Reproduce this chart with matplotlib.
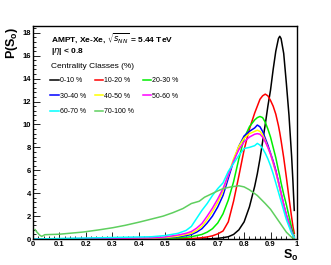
import matplotlib.pyplot as plt
from matplotlib.ticker import MultipleLocator

# S_o sample points shared by the centrality curves
x_so = [0.0, 0.45, 0.5, 0.55, 0.58, 0.6, 0.62, 0.64, 0.66, 0.68, 0.7, 0.72, 0.74, 0.76, 0.78,
        0.8, 0.82, 0.84, 0.85, 0.86, 0.87, 0.88, 0.89, 0.9, 0.91, 0.92, 0.93, 0.935, 0.94,
        0.95, 0.96, 0.97, 0.98, 0.985, 0.99]

c0_10 = [0, 0, 0, 0, 0, 0, 0, 0, 0.01, 0.03, 0.06, 0.12, 0.2, 0.4, 0.8,
         1.5, 2.8, 4.6, 5.7, 7.0, 8.5, 10.0, 11.6, 13.0, 14.8, 16.4, 17.5, 17.7, 17.5,
         16.2, 13.6, 10.8, 7.2, 5.0, 2.5]
c10_20 = [0, 0, 0, 0.01, 0.02, 0.04, 0.07, 0.12, 0.18, 0.28, 0.45, 0.7, 1.5, 3.3, 5.5,
          7.8, 9.6, 11.0, 11.6, 12.2, 12.5, 12.65, 12.5, 12.1, 11.6, 10.9, 9.9, 9.3, 8.6,
          7.1, 5.4, 3.6, 1.9, 1.1, 0.5]
c20_30 = [0, 0.02, 0.05, 0.1, 0.15, 0.2, 0.3, 0.4, 0.6, 0.9, 1.4, 2.2, 3.4, 5.0, 7.0,
          8.8, 9.8, 10.4, 10.6, 10.7, 10.6, 10.2, 9.6, 8.9, 8.0, 7.1, 6.0, 5.5, 4.9,
          3.9, 3.0, 2.0, 1.0, 0.6, 0.25]
c30_40 = [0, 0.05, 0.1, 0.2, 0.3, 0.4, 0.6, 0.9, 1.4, 2.0, 2.8, 3.8, 5.3, 6.8, 8.1,
          9.0, 9.4, 9.7, 9.95, 9.8, 9.4, 8.8, 8.2, 7.5, 6.8, 6.0, 5.0, 4.5, 4.0,
          3.0, 2.1, 1.4, 0.7, 0.4, 0.15]
c40_50 = [0, 0.06, 0.12, 0.25, 0.4, 0.5, 0.75, 1.1, 1.7, 2.4, 3.2, 4.2, 5.6, 7.0, 8.1,
          8.8, 9.2, 9.4, 9.5, 9.4, 9.1, 8.6, 8.0, 7.4, 6.6, 5.8, 4.9, 4.4, 3.9,
          2.9, 2.0, 1.3, 0.6, 0.35, 0.1]
c50_60 = [0, 0.1, 0.18, 0.35, 0.5, 0.65, 0.95, 1.35, 2.0, 2.7, 3.5, 4.4, 5.6, 6.8, 7.8,
          8.5, 8.9, 9.15, 9.2, 9.15, 8.9, 8.5, 8.0, 7.4, 6.7, 5.9, 5.0, 4.5, 4.0,
          3.0, 2.1, 1.3, 0.6, 0.35, 0.1]
c60_70 = [0, 0.2, 0.3, 0.5, 0.75, 1.1, 1.8, 2.5, 3.1, 3.8, 4.4, 4.9, 5.9, 6.6, 7.3,
          7.9, 8.0, 8.15, 8.35, 8.2, 7.9, 7.5, 7.0, 6.4, 5.7, 4.9, 4.1, 3.7, 3.3,
          2.5, 1.7, 1.1, 0.5, 0.3, 0.1]

# peripheral class has its own sampling
x_periph = [0.008, 0.015, 0.025, 0.033, 0.045, 0.1, 0.19, 0.25, 0.303, 0.35, 0.405, 0.45,
            0.493, 0.53, 0.568, 0.6, 0.63, 0.65, 0.7, 0.72, 0.75, 0.78, 0.8, 0.82, 0.85,
            0.88, 0.9, 0.93, 0.96, 0.98, 0.99]
c70_100 = [0.82, 0.6, 0.35, 0.23, 0.38, 0.42, 0.61, 0.8, 0.99, 1.2, 1.49, 1.75,
           2.0, 2.3, 2.66, 3.1, 3.3, 3.65, 4.2, 4.4, 4.55, 4.65, 4.55, 4.3, 3.8,
           3.1, 2.6, 1.6, 0.6, 0.15, 0.0]

labels = ['0-10 %', '10-20 %', '20-30 %', '30-40 %', '40-50 %', '50-60 %', '60-70 %', '70-100 %']
colors = ['black', '#ff0000', '#00ee00', '#0000ff', '#ffff00', '#ff00ff', '#00ffff', '#5fcf5f']
series = [c0_10, c10_20, c20_30, c30_40, c40_50, c50_60, c60_70, c70_100]
x_ticks = [0, 0.1, 0.2, 0.3, 0.4, 0.5, 0.6, 0.7, 0.8, 0.9, 1.0]
x_tick_labels = ['0', '0.1', '0.2', '0.3', '0.4', '0.5', '0.6', '0.7', '0.8', '0.9', '1']

plt.rcParams['font.family'] = ['Liberation Sans', 'DejaVu Sans']

fig = plt.figure(figsize=(3.31, 2.65), dpi=100)
ax = fig.add_axes([0.0997, 0.098, 0.7973, 0.804])

handles = []
for lab, col, ys in zip(labels, colors, series):
    xs = x_periph if lab == '70-100 %' else x_so
    h, = ax.plot(xs, ys, color=col, lw=1.1, label=lab)
    handles.append(h)

ax.set_xlim(0, 1)
ax.set_ylim(0, 18.6)
ax.set_xticks(x_ticks)
ax.set_xticklabels(x_tick_labels)
ax.xaxis.set_minor_locator(MultipleLocator(0.02))
ax.yaxis.set_major_locator(MultipleLocator(2))
ax.yaxis.set_minor_locator(MultipleLocator(0.4))
ax.tick_params(which='both', direction='in', top=False, right=False, width=0.6)
ax.tick_params(which='major', length=5, labelsize=5.5, pad=1.5)
ax.tick_params(which='minor', length=2.5)
for lbl in ax.get_xticklabels() + ax.get_yticklabels():
    lbl.set_fontweight('bold')
for sp in ax.spines.values():
    sp.set_linewidth(1.0)

fig.text(0.035, 0.90, r'P(S$_{\mathregular{o}}$)', rotation=90, fontsize=9, fontweight='bold',
         ha='center', va='top')
fig.text(0.855, 0.064, r'S$_{\mathregular{o}}$', fontsize=9, fontweight='bold', ha='left', va='top')

ax.text(0.07, 0.944, r'AMPT, Xe-Xe, $\sqrt{s_{NN}}$ = 5.44 TeV', transform=ax.transAxes,
        fontsize=6, fontweight='bold', va='center')
ax.text(0.07, 0.878, r'|$\eta$| < 0.8', transform=ax.transAxes, fontsize=6, fontweight='bold',
        va='center')
ax.text(0.068, 0.812, 'Centrality Classes (%)', transform=ax.transAxes, fontsize=6, va='center')

# legend filled column-wise, so reorder to read row-wise
order = [0, 3, 6, 1, 4, 7, 2, 5]
ax.legend([handles[i] for i in order], [labels[i] for i in order], loc='upper left',
          bbox_to_anchor=(0.055, 0.772), ncol=3, frameon=False, fontsize=5,
          handlelength=1.2, handletextpad=0.2, columnspacing=1.2, labelspacing=1.2,
          borderaxespad=0)

fig.savefig('out.png', dpi=100)
